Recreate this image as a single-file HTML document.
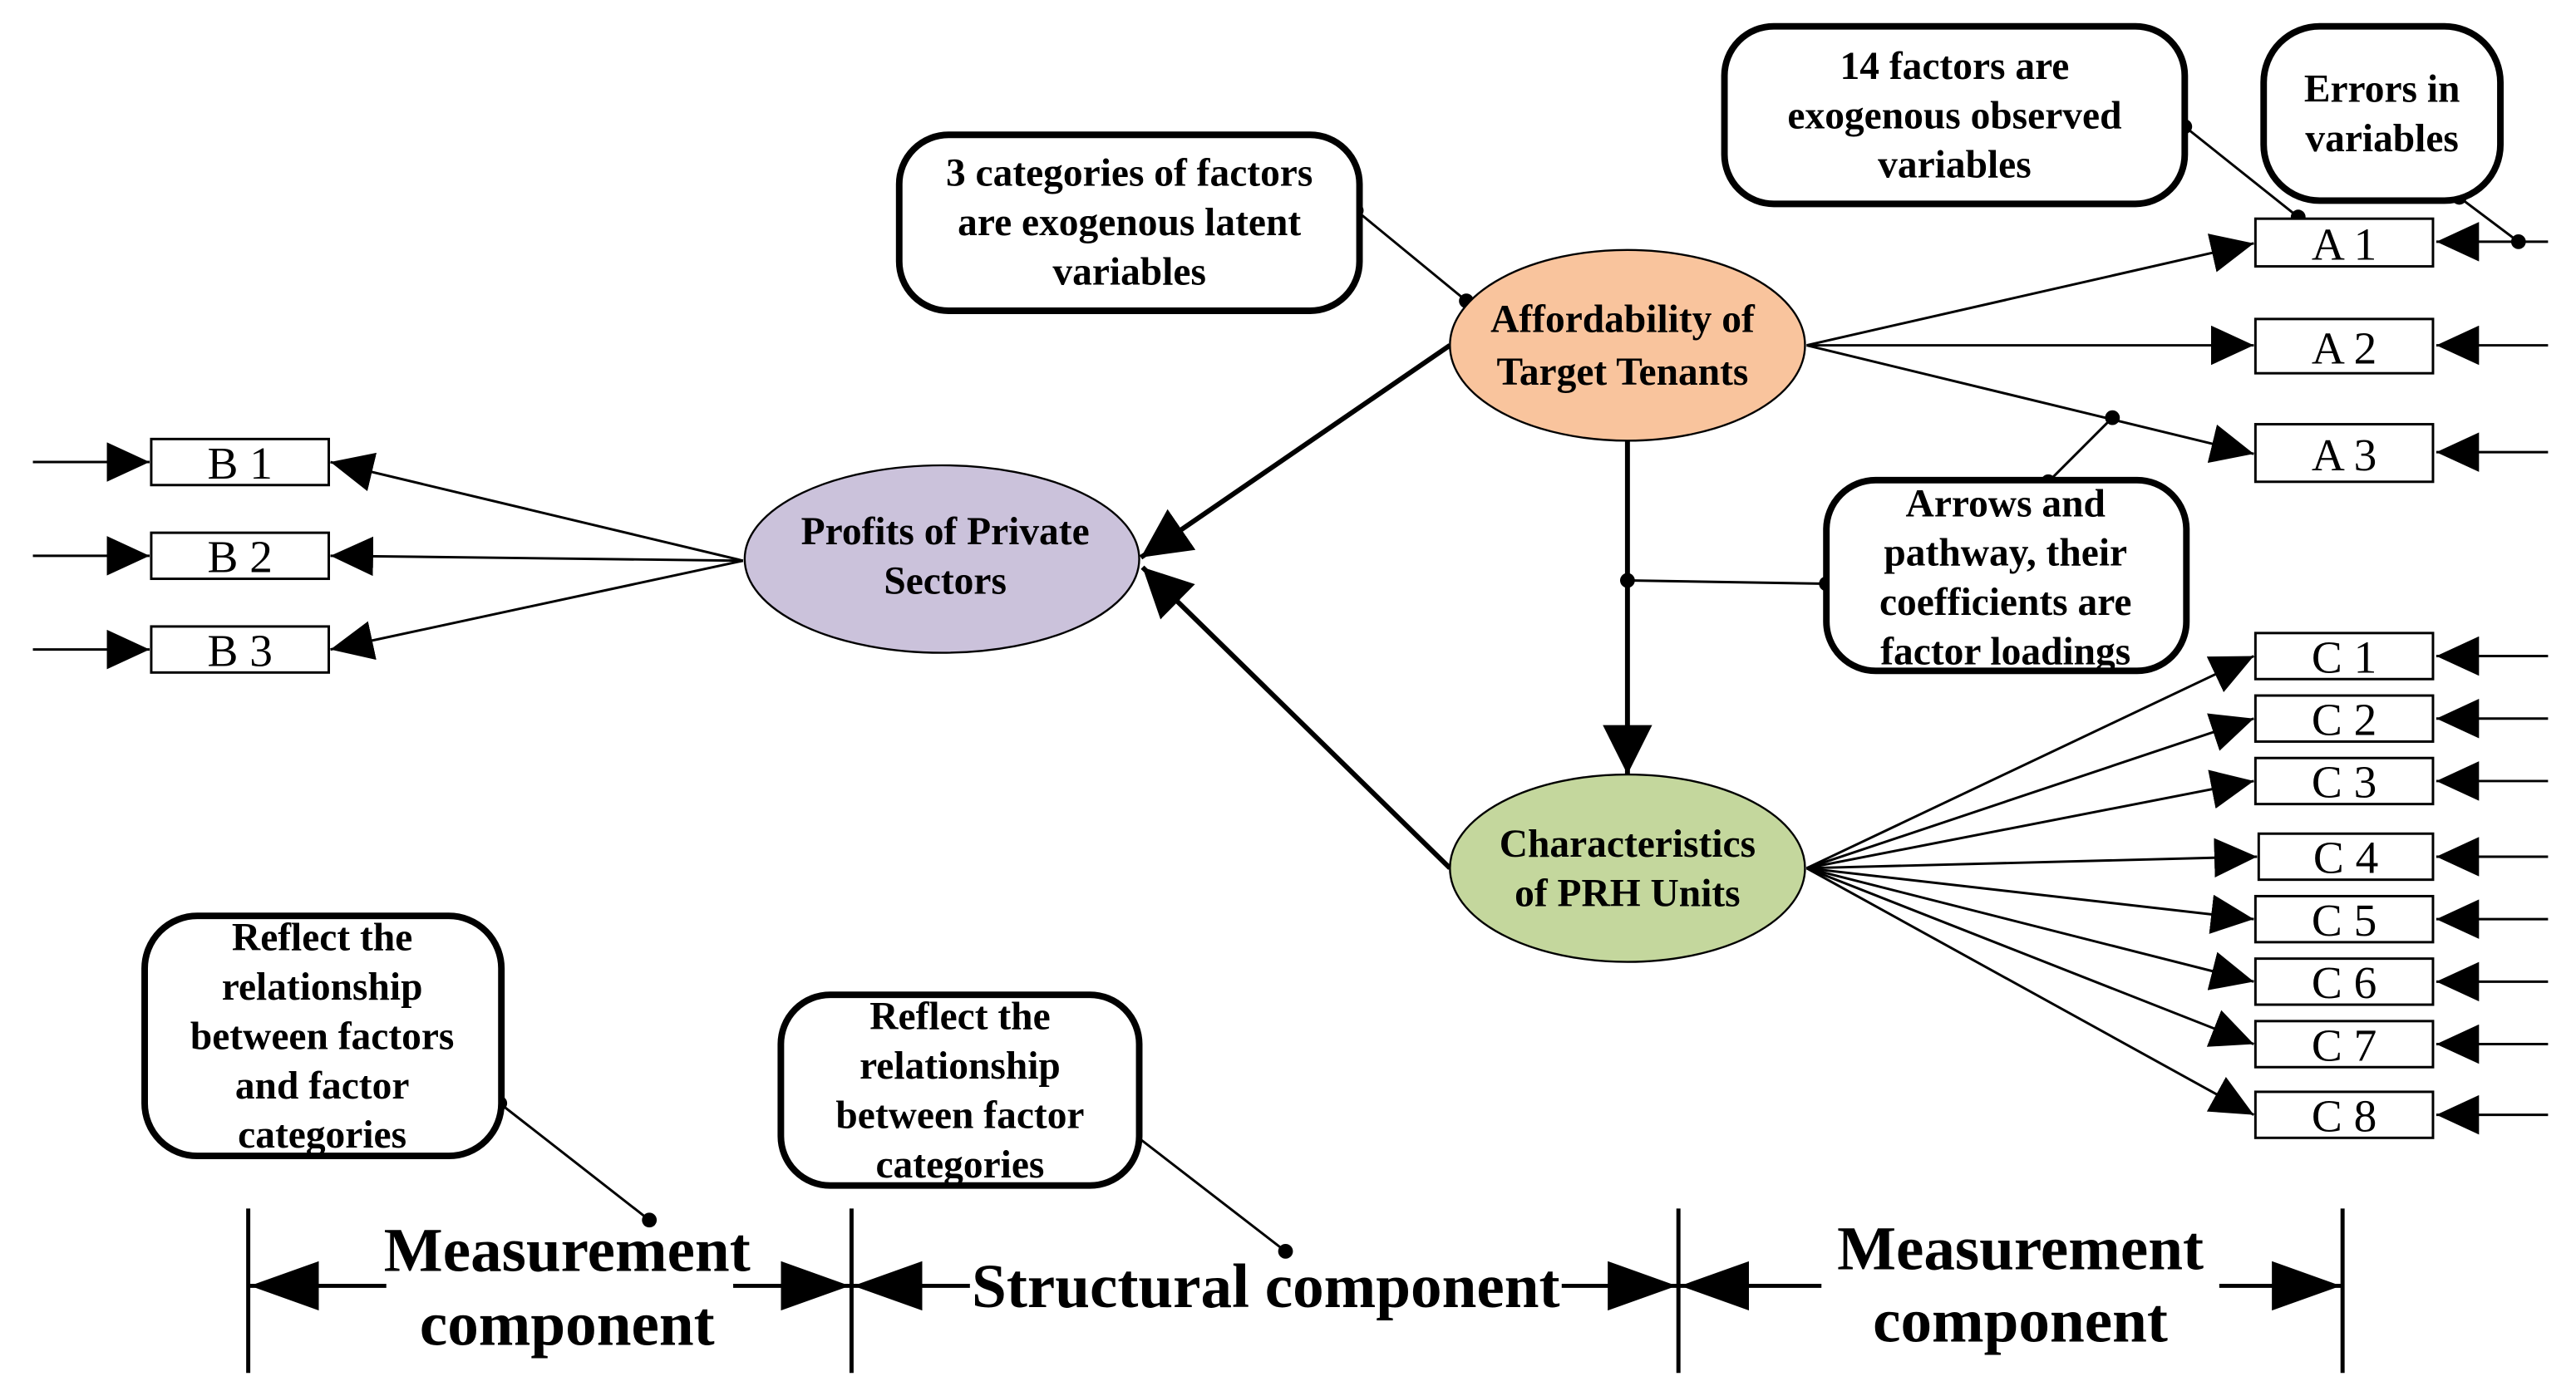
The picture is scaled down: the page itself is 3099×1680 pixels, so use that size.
<!DOCTYPE html>
<html><head><meta charset="utf-8"><style>html,body{margin:0;padding:0;background:#fff}svg{display:block}</style></head>
<body>
<svg width="3099" height="1680" viewBox="0 0 1567 849" preserveAspectRatio="none" xmlns="http://www.w3.org/2000/svg" font-family="'Liberation Serif', serif">
<defs>
<marker id="s" markerUnits="userSpaceOnUse" markerWidth="26" markerHeight="24" refX="26" refY="12" orient="auto"><path d="M0,0 L26,12 L0,24 Z" fill="#000"/></marker>
<marker id="t" markerUnits="userSpaceOnUse" markerWidth="30" markerHeight="30" refX="30" refY="15" orient="auto"><path d="M0,0 L30,15 L0,30 Z" fill="#000"/></marker>
<marker id="b" markerUnits="userSpaceOnUse" markerWidth="42" markerHeight="30" refX="42" refY="15" orient="auto"><path d="M0,0 L42,15 L0,30 Z" fill="#000"/></marker>
</defs>
<g stroke="#000" stroke-width="1.5" fill="none">
<line x1="1099" y1="210" x2="1371" y2="148" marker-end="url(#s)"/>
<line x1="1099" y1="210" x2="1371" y2="210" marker-end="url(#s)"/>
<line x1="1099" y1="210" x2="1371" y2="276" marker-end="url(#s)"/>
<line x1="1550" y1="147" x2="1482" y2="147" marker-end="url(#s)"/>
<line x1="1550" y1="210" x2="1482" y2="210" marker-end="url(#s)"/>
<line x1="1550" y1="275" x2="1482" y2="275" marker-end="url(#s)"/>
<line x1="452" y1="341" x2="201" y2="281" marker-end="url(#s)"/>
<line x1="452" y1="341" x2="201" y2="338" marker-end="url(#s)"/>
<line x1="452" y1="341" x2="201" y2="395" marker-end="url(#s)"/>
<line x1="20" y1="281" x2="91" y2="281" marker-end="url(#s)"/>
<line x1="20" y1="338" x2="91" y2="338" marker-end="url(#s)"/>
<line x1="20" y1="395" x2="91" y2="395" marker-end="url(#s)"/>
<line x1="1099" y1="528" x2="1371" y2="399" marker-end="url(#s)"/>
<line x1="1099" y1="528" x2="1371" y2="437" marker-end="url(#s)"/>
<line x1="1099" y1="528" x2="1371" y2="475" marker-end="url(#s)"/>
<line x1="1099" y1="528" x2="1373" y2="521" marker-end="url(#s)"/>
<line x1="1099" y1="528" x2="1371" y2="559" marker-end="url(#s)"/>
<line x1="1099" y1="528" x2="1371" y2="597" marker-end="url(#s)"/>
<line x1="1099" y1="528" x2="1371" y2="635" marker-end="url(#s)"/>
<line x1="1099" y1="528" x2="1371" y2="678" marker-end="url(#s)"/>
<line x1="1550" y1="399" x2="1482" y2="399" marker-end="url(#s)"/>
<line x1="1550" y1="437" x2="1482" y2="437" marker-end="url(#s)"/>
<line x1="1550" y1="475" x2="1482" y2="475" marker-end="url(#s)"/>
<line x1="1550" y1="521" x2="1482" y2="521" marker-end="url(#s)"/>
<line x1="1550" y1="559" x2="1482" y2="559" marker-end="url(#s)"/>
<line x1="1550" y1="597" x2="1482" y2="597" marker-end="url(#s)"/>
<line x1="1550" y1="635" x2="1482" y2="635" marker-end="url(#s)"/>
<line x1="1550" y1="678" x2="1482" y2="678" marker-end="url(#s)"/>
<line x1="825" y1="128" x2="892" y2="183"/>
<line x1="1329" y1="77" x2="1398" y2="132"/>
<line x1="1496" y1="120" x2="1532" y2="147"/>
<line x1="990" y1="353" x2="1111" y2="355"/>
<line x1="1246" y1="293" x2="1285" y2="254"/>
<line x1="304" y1="671" x2="395" y2="742"/>
<line x1="690" y1="690" x2="782" y2="761"/>
</g>
<g stroke="#000" stroke-width="3" fill="none">
<line x1="882" y1="210" x2="694" y2="339" marker-end="url(#t)"/>
<line x1="882" y1="528" x2="695" y2="345" marker-end="url(#t)"/>
<line x1="990" y1="268" x2="990" y2="471" marker-end="url(#t)"/>
</g>
<g fill="#000">
<circle cx="825" cy="128" r="4.5"/><circle cx="892" cy="183" r="4.5"/>
<circle cx="1329" cy="77" r="4.5"/><circle cx="1398" cy="132" r="4.5"/>
<circle cx="1496" cy="120" r="4.5"/><circle cx="1532" cy="147" r="4.5"/>
<circle cx="990" cy="353" r="4.5"/><circle cx="1111" cy="355" r="4.5"/>
<circle cx="1246" cy="293" r="4.5"/><circle cx="1285" cy="254" r="4.5"/>
<circle cx="304" cy="671" r="4.5"/><circle cx="395" cy="742" r="4.5"/>
<circle cx="690" cy="690" r="4.5"/><circle cx="782" cy="761" r="4.5"/>
</g>
<ellipse cx="990" cy="210" rx="108" ry="58" fill="#f9c49d" stroke="#000" stroke-width="1.2"/>
<ellipse cx="573" cy="340" rx="120" ry="57" fill="#cbc2db" stroke="#000" stroke-width="1.2"/>
<ellipse cx="990" cy="528" rx="108" ry="57" fill="#c4d79d" stroke="#000" stroke-width="1.2"/>
<g fill="#fff" stroke="#000" stroke-width="4">
<rect x="547" y="82" width="280" height="107" rx="30"/>
<rect x="1049" y="16" width="280" height="108" rx="30"/>
<rect x="1377" y="16" width="144" height="106" rx="34"/>
<rect x="1111" y="292" width="219" height="116" rx="30"/>
<rect x="88" y="557" width="217" height="146" rx="32"/>
<rect x="475" y="605" width="218" height="116" rx="30"/>
</g>
<g fill="#fff" stroke="#000" stroke-width="1.5">
<rect x="1372" y="133" width="108" height="29"/>
<rect x="1372" y="194" width="108" height="33"/>
<rect x="1372" y="258" width="108" height="35"/>
<rect x="92" y="267" width="108" height="28"/>
<rect x="92" y="324" width="108" height="28"/>
<rect x="92" y="381" width="108" height="28"/>
<rect x="1372" y="385" width="108" height="28"/>
<rect x="1372" y="423" width="108" height="28"/>
<rect x="1372" y="461" width="108" height="28"/>
<rect x="1374" y="507" width="106" height="28"/>
<rect x="1372" y="545" width="108" height="28"/>
<rect x="1372" y="583" width="108" height="28"/>
<rect x="1372" y="621" width="108" height="28"/>
<rect x="1372" y="664" width="108" height="28"/>
</g>
<g font-size="28" text-anchor="middle" fill="#000">
<text x="1426" y="158">A 1</text><text x="1426" y="221">A 2</text><text x="1426" y="286">A 3</text>
<text x="146" y="291">B 1</text><text x="146" y="348">B 2</text><text x="146" y="405">B 3</text>
<text x="1426" y="409">C 1</text><text x="1426" y="447">C 2</text><text x="1426" y="485">C 3</text>
<text x="1427" y="531">C 4</text><text x="1426" y="569">C 5</text><text x="1426" y="607">C 6</text>
<text x="1426" y="645">C 7</text><text x="1426" y="688">C 8</text>
</g>
<g font-size="24" font-weight="bold" text-anchor="middle" fill="#000">
<text x="987" y="202">Affordability of</text><text x="987" y="234">Target Tenants</text>
<text x="575" y="331">Profits of Private</text><text x="575" y="361">Sectors</text>
<text x="990" y="521">Characteristics</text><text x="990" y="551">of PRH Units</text>
<text x="687" y="113">3 categories of factors</text><text x="687" y="143">are exogenous latent</text><text x="687" y="173">variables</text>
<text x="1189" y="48">14 factors are</text><text x="1189" y="78">exogenous observed</text><text x="1189" y="108">variables</text>
<text x="1449" y="62">Errors in</text><text x="1449" y="92">variables</text>
<text x="1220" y="314">Arrows and</text><text x="1220" y="344">pathway, their</text><text x="1220" y="374">coefficients are</text><text x="1220" y="404">factor loadings</text>
<text x="196" y="578">Reflect the</text><text x="196" y="608">relationship</text><text x="196" y="638">between factors</text><text x="196" y="668">and factor</text><text x="196" y="698">categories</text>
<text x="584" y="626">Reflect the</text><text x="584" y="656">relationship</text><text x="584" y="686">between factor</text><text x="584" y="716">categories</text>
</g>
<g stroke="#000" stroke-width="2.5">
<line x1="151" y1="735" x2="151" y2="835"/><line x1="518" y1="735" x2="518" y2="835"/>
<line x1="1021" y1="735" x2="1021" y2="835"/><line x1="1425" y1="735" x2="1425" y2="835"/>
<line x1="235" y1="782" x2="152" y2="782" marker-end="url(#b)"/>
<line x1="446" y1="782" x2="517" y2="782" marker-end="url(#b)"/>
<line x1="590" y1="782" x2="519" y2="782" marker-end="url(#b)"/>
<line x1="950" y1="782" x2="1020" y2="782" marker-end="url(#b)"/>
<line x1="1108" y1="782" x2="1022" y2="782" marker-end="url(#b)"/>
<line x1="1350" y1="782" x2="1424" y2="782" marker-end="url(#b)"/>
</g>
<g font-size="38" font-weight="bold" text-anchor="middle" fill="#000">
<text x="345" y="773">Measurement</text><text x="345" y="818">component</text>
<text x="770" y="795">Structural component</text>
<text x="1229" y="772">Measurement</text><text x="1229" y="816">component</text>
</g>
</svg>
</body></html>
